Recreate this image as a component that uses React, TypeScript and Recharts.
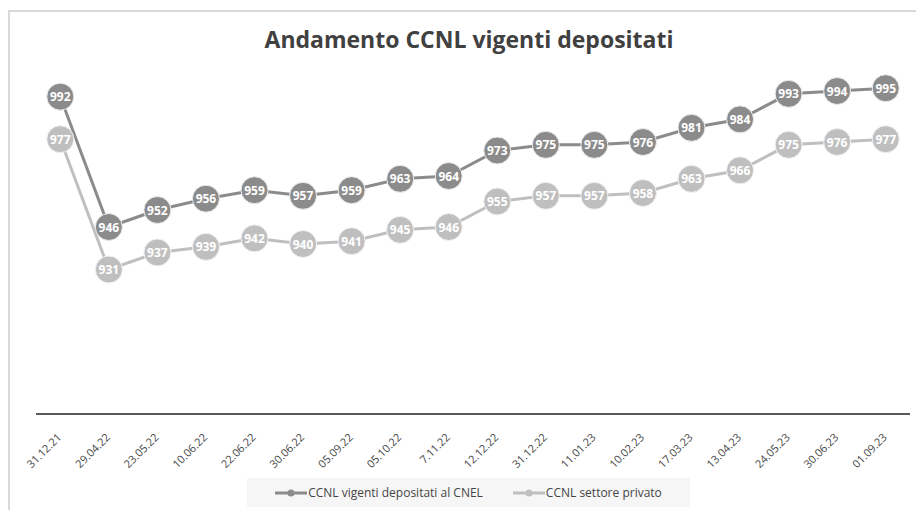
import React from "react";
import { LineChart, Line, XAxis, YAxis, LabelList, Legend } from "recharts";

const categories = [
  "31.12.21", "29.04.22", "23.05.22", "10.06.22", "22.06.22", "30.06.22",
  "05.09.22", "05.10.22", "7.11.22", "12.12.22", "31.12.22", "11.01.23",
  "10.02.23", "17.03.23", "13.04.23", "24.05.23", "30.06.23", "01.09.23",
];
const cnelValues = [992, 946, 952, 956, 959, 957, 959, 963, 964, 973, 975, 975, 976, 981, 984, 993, 994, 995];
const privatoValues = [977, 931, 937, 939, 942, 940, 941, 945, 946, 955, 957, 957, 958, 963, 966, 975, 976, 977];

const seriesNames = ["CCNL vigenti depositati al CNEL", "CCNL settore privato"];
const DARK = "#8b8b8b";
const LIGHT = "#bfbfbf";
const FONT = "'Open Sans', sans-serif";

const data = categories.map((c, i) => ({ cat: c, cnel: cnelValues[i], privato: privatoValues[i] }));

const Tick = (props: any) => {
  const { x, y, payload } = props;
  const ax = x + 2;
  const ay = y + 16;
  return (
    <text
      x={ax}
      y={ay}
      transform={`rotate(-45, ${ax}, ${ay})`}
      textAnchor="end"
      fontSize={11}
      fontFamily={FONT}
      fill="#454545"
    >
      {payload.value}
    </text>
  );
};

const ValueLabel = (props: any) => {
  const { x, y, value } = props;
  return (
    <text
      x={x}
      y={y}
      textAnchor="middle"
      dominantBaseline="central"
      fontSize={12}
      fontWeight={700}
      fontFamily={FONT}
      fill="#ffffff"
    >
      {value}
    </text>
  );
};

const LegendIcon = ({ color }: { color: string }) => (
  <svg width={32} height={10} style={{ display: "inline-block", verticalAlign: "middle" }}>
    <line x1={0} y1={5} x2={32} y2={5} stroke={color} strokeWidth={3} />
    <circle cx={16} cy={5} r={3.5} fill={color} />
  </svg>
);

const LegendContent = () => (
  <div
    style={{
      background: "#f6f6f6",
      height: 29,
      width: 443,
      display: "flex",
      alignItems: "center",
      justifyContent: "center",
      fontFamily: FONT,
      fontSize: 12,
      color: "#454545",
    }}
  >
    <LegendIcon color={DARK} />
    <span style={{ marginLeft: 1, marginRight: 30 }}>{seriesNames[0]}</span>
    <LegendIcon color={LIGHT} />
    <span style={{ marginLeft: 1 }}>{seriesNames[1]}</span>
  </div>
);

export default function App() {
  return (
    <div style={{ position: "fixed", left: 0, top: 0, width: 916, height: 510, background: "#fff" }}>
      <div
        style={{
          position: "absolute",
          left: 8,
          top: 10,
          width: 908,
          height: 500,
          borderTop: "2px solid #d9d9d9",
          borderLeft: "2px solid #d9d9d9",
          boxSizing: "border-box",
        }}
      />
      <div
        style={{
          position: "absolute",
          left: 0,
          width: 938,
          top: 23,
          textAlign: "center",
          fontFamily: FONT,
          fontWeight: 700,
          fontSize: 23,
          color: "#404040",
        }}
      >
        Andamento CCNL vigenti depositati
      </div>
      <LineChart
        width={916}
        height={510}
        data={data}
        margin={{ top: 74, right: 6, left: 36, bottom: 0 }}
        style={{ position: "absolute", left: 0, top: 0 }}
      >
        <XAxis
          dataKey="cat"
          scale="band"
          interval={0}
          tickLine={false}
          axisLine={{ stroke: "#595959", strokeWidth: 2 }}
          tick={<Tick />}
          height={67}
        />
        <YAxis hide domain={[880, 1000]} width={0} />
        <Legend
          verticalAlign="bottom"
          content={<LegendContent />}
          wrapperStyle={{ left: 247, top: 478, width: 443, height: 29 }}
        />
        <Line
          dataKey="privato"
          name={seriesNames[1]}
          stroke={LIGHT}
          strokeWidth={3}
          dot={{ r: 13.5, fill: LIGHT, stroke: "#f2f2f2", strokeWidth: 1 }}
          activeDot={false}
          isAnimationActive={false}
        >
          <LabelList dataKey="privato" content={<ValueLabel />} />
        </Line>
        <Line
          dataKey="cnel"
          name={seriesNames[0]}
          stroke={DARK}
          strokeWidth={3}
          dot={{ r: 13.5, fill: DARK, stroke: "#eeeeee", strokeWidth: 1 }}
          activeDot={false}
          isAnimationActive={false}
        >
          <LabelList dataKey="cnel" content={<ValueLabel />} />
        </Line>
      </LineChart>
    </div>
  );
}
